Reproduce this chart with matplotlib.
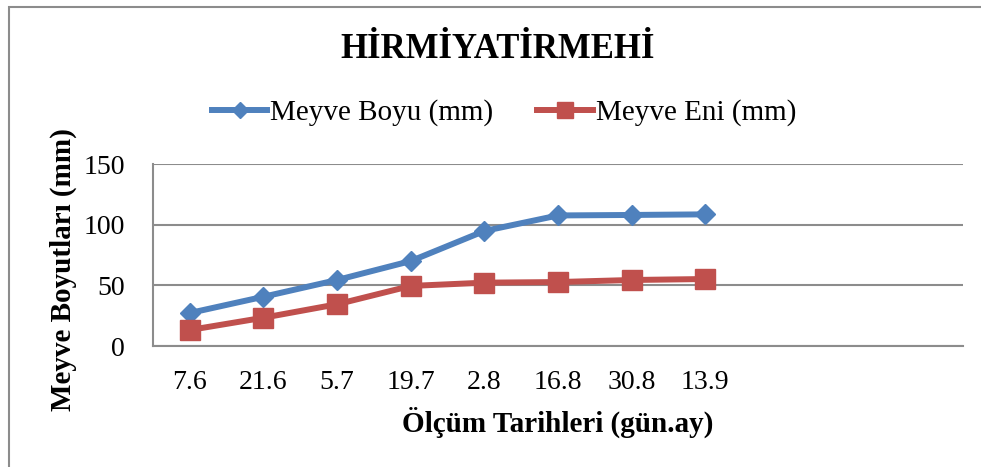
import numpy as np
import matplotlib
matplotlib.use("Agg")
import matplotlib.pyplot as plt
from matplotlib.patches import Rectangle

# measurement dates (day.month); the category axis in the original has 3 blank slots at the end
dates = ["7.6", "21.6", "5.7", "19.7", "2.8", "16.8", "30.8", "13.9"]
n_blank = 3
boy = [27.2, 40.6, 54.4, 70.0, 94.8, 107.6, 108.0, 108.5]  # Meyve Boyu (mm)
en = [13.2, 23.3, 34.4, 49.5, 52.2, 52.7, 54.4, 55.2]      # Meyve Eni (mm)

blue = "#4F81BD"
red = "#C0504D"
grid_col = "#8C8C8C"

plt.rcParams["font.family"] = ["Liberation Serif", "DejaVu Serif"]

fig = plt.figure(figsize=(9.81, 4.67), dpi=100)
ax = fig.add_axes([153 / 981, 1 - 346 / 467, 810 / 981, 182 / 467])

x = np.arange(len(dates))
ax.plot(x, boy, color=blue, lw=4.3, marker="D", ms=10, mec=blue, label="Meyve Boyu (mm)", zorder=3)
ax.plot(x, en, color=red, lw=4.3, marker="s", ms=14, mec=red, label="Meyve Eni (mm)", zorder=3)

n_cat = len(dates) + n_blank
ax.set_xlim(-0.5, n_cat - 0.5)
ax.set_xticks(np.arange(n_cat))
ax.set_xticklabels(dates + [""] * n_blank)
ax.set_ylim(0, 150)
ax.set_yticks([0, 50, 100, 150])
ax.tick_params(axis="both", length=0, labelsize=20)
ax.tick_params(axis="y", pad=20)
ax.tick_params(axis="x", pad=17)

ax.grid(axis="y", color=grid_col, lw=1.5)
ax.set_axisbelow(True)
for side in ["top", "right"]:
    ax.spines[side].set_visible(False)
for side in ["left", "bottom"]:
    ax.spines[side].set_color(grid_col)
    ax.spines[side].set_linewidth(1.5)

ax.set_xlabel("Ölçüm Tarihleri (gün.ay)", fontsize=21, fontweight="bold")
ax.xaxis.set_label_coords(0.5, -0.335)
ax.set_ylabel("Meyve Boyutları (mm)", fontsize=21, fontweight="bold")
ax.yaxis.set_label_coords(-0.094, 0.418)

fig.text(498 / 981, 1 - 50 / 467, "HİRMİYATİRMEHİ", fontsize=25, fontweight="bold",
         ha="center", va="center")

fig.legend(loc="center", bbox_to_anchor=(504 / 981, 1 - 113 / 467), ncol=2, frameon=False,
           fontsize=21, handlelength=1.9, handletextpad=0.1, columnspacing=1.5, markerscale=0.8)

# outer chart border (only left and top edges are visible in the original)
fig.patches.append(Rectangle((9 / 981, -0.05), 1.1, 1 - 7 / 467 + 0.05, transform=fig.transFigure,
                             fill=False, edgecolor="#8C8C8C", lw=1.5))

fig.savefig("out.png", dpi=100)
